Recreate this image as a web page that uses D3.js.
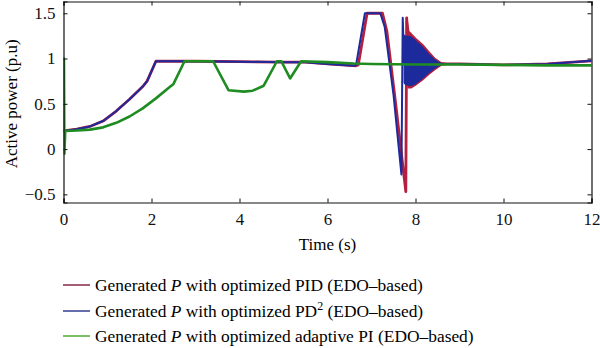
<!DOCTYPE html>
<html>
<head>
<meta charset="utf-8">
<script src="https://cdn.jsdelivr.net/npm/d3@7"></script>
<style>
  body { margin: 0; background: #fff; }
  svg { display: block; }
  .axis path, .axis line { stroke: #111; }
</style>
</head>
<body>
<svg id="chart" width="600" height="348"></svg>
<script>
// --- data (time in s, active power in p.u.) ---
const seriesNames = [
  'Generated P with optimized PID (EDO–based)',
  'Generated P with optimized PD2 (EDO–based)',
  'Generated P with optimized adaptive PI (EDO–based)'
];

const pidTime  = [0, 0.3, 0.6, 0.9, 1.2, 1.5, 1.8, 1.9, 2.1, 3, 4, 5, 5.5, 6, 6.65, 6.7, 6.9, 7.25, 7.35, 7.55, 7.78, 7.80, 7.83, 8.6, 9, 10, 11, 12];
const pidValue = [0.2, 0.22, 0.25, 0.31, 0.42, 0.55, 0.69, 0.75, 0.97, 0.97, 0.965, 0.96, 0.96, 0.94, 0.92, 0.93, 1.5, 1.5, 1.3, 0.5, -0.47, 1.45, 0.95, 0.94, 0.94, 0.93, 0.94, 0.975];

const pd2Time  = [0, 0.3, 0.6, 0.9, 1.2, 1.5, 1.8, 1.9, 2.1, 3, 4, 5, 5.5, 6, 6.6, 6.65, 6.85, 7.2, 7.3, 7.5, 7.68, 7.71, 7.74, 8.6, 9, 10, 11, 12];
const pd2Value = [0.2, 0.22, 0.25, 0.31, 0.42, 0.55, 0.69, 0.75, 0.97, 0.97, 0.965, 0.96, 0.96, 0.94, 0.92, 0.93, 1.5, 1.5, 1.35, 0.6, -0.28, 1.45, 0.95, 0.94, 0.94, 0.93, 0.94, 0.975];

const piTime  = [0, 0.01, 0.02, 0.04, 0.3, 0.6, 0.9, 1.2, 1.5, 1.8, 2.1, 2.4, 2.5, 2.75, 3.4, 3.75, 4.1, 4.3, 4.55, 4.85, 4.95, 5.15, 5.4, 6, 6.6, 7, 8, 9, 10, 11, 12];
const piValue = [0.2, 1.0, -0.05, 0.2, 0.205, 0.215, 0.24, 0.29, 0.36, 0.45, 0.56, 0.68, 0.72, 0.97, 0.97, 0.65, 0.635, 0.645, 0.70, 0.97, 0.97, 0.78, 0.97, 0.96, 0.945, 0.94, 0.935, 0.935, 0.93, 0.925, 0.925];

// envelope of the fast oscillation after the fault clearing
const pidBandTime  = [7.80, 7.84, 7.9, 8.0, 8.16, 8.3, 8.43, 8.58, 8.7];
const pidBandUpper = [1.45, 1.30, 1.27, 1.22, 1.15, 1.07, 1.0, 0.95, 0.94];
const pidBandLower = [0.95, 0.68, 0.68, 0.71, 0.77, 0.83, 0.88, 0.93, 0.94];

const pd2BandTime  = [7.74, 7.77, 7.9, 8.0, 8.16, 8.3, 8.43, 8.56, 8.68];
const pd2BandUpper = [1.26, 1.25, 1.24, 1.2, 1.13, 1.05, 0.99, 0.95, 0.94];
const pd2BandLower = [0.73, 0.71, 0.7, 0.72, 0.78, 0.84, 0.89, 0.93, 0.94];

const xTicks = [0, 2, 4, 6, 8, 10, 12];
const yTicks = [-0.5, 0, 0.5, 1, 1.5];

const colors = ['#b4203e', '#1c2a9c', '#1f8c22'];
const legendColors = ['#8e3552', '#3b4a96', '#5cae3e'];
const serif = '"Liberation Serif", "DejaVu Serif", serif';

// --- layout ---
const svg = d3.select('#chart').attr('font-family', serif);
const margin = { left: 63.5, right: 8.5, top: 1.5, bottom: 145.5 };
const W = 600, H = 348;
const innerW = W - margin.left - margin.right;
const innerH = H - margin.top - margin.bottom;

const x = d3.scaleLinear().domain([0, 12]).range([margin.left, margin.left + innerW]);
const y = d3.scaleLinear().domain([-0.59, 1.63]).range([margin.top + innerH, margin.top]);

const g = svg.append('g');

// clip for data
svg.append('clipPath').attr('id', 'clip')
  .append('rect')
  .attr('x', margin.left).attr('y', margin.top)
  .attr('width', innerW).attr('height', innerH);

const plot = g.append('g').attr('clip-path', 'url(#clip)');

const line = d3.line().x(d => x(d[0])).y(d => y(d[1]));
const area = d3.area().x(d => x(d[0])).y0(d => y(d[2])).y1(d => y(d[1]));

function zip(a, b, c) {
  return a.map((v, i) => c ? [v, b[i], c[i]] : [v, b[i]]);
}

// PID (drawn first, thicker so it rims the PD2 curve)
plot.append('path')
  .datum(zip(pidBandTime, pidBandUpper, pidBandLower))
  .attr('d', area)
  .attr('fill', colors[0])
  .attr('stroke', colors[0])
  .attr('stroke-width', 2);
plot.append('path')
  .datum(zip(pidTime, pidValue))
  .attr('d', line)
  .attr('fill', 'none')
  .attr('stroke', colors[0])
  .attr('stroke-width', 2.8)
  .attr('stroke-linejoin', 'round');

// PD2
plot.append('path')
  .datum(zip(pd2BandTime, pd2BandUpper, pd2BandLower))
  .attr('d', area)
  .attr('fill', colors[1])
  .attr('stroke', colors[1])
  .attr('stroke-width', 1);
plot.append('path')
  .datum(zip(pd2Time, pd2Value))
  .attr('d', line)
  .attr('fill', 'none')
  .attr('stroke', colors[1])
  .attr('stroke-width', 2)
  .attr('stroke-linejoin', 'round');

// adaptive PI
plot.append('path')
  .datum(zip(piTime, piValue))
  .attr('d', line)
  .attr('fill', 'none')
  .attr('stroke', colors[2])
  .attr('stroke-width', 2.6)
  .attr('stroke-linejoin', 'round');

// --- axes (ticks pointing inward, mirrored on top/right) ---
const xAxis = g.append('g').attr('class', 'axis')
  .attr('transform', `translate(0,${margin.top + innerH})`)
  .call(d3.axisBottom(x).tickValues(xTicks).tickSize(-4).tickPadding(10).tickFormat(d3.format('d')));
const xAxisTop = g.append('g').attr('class', 'axis')
  .attr('transform', `translate(0,${margin.top})`)
  .call(d3.axisTop(x).tickValues(xTicks).tickSize(-4).tickFormat(''));
const yAxis = g.append('g').attr('class', 'axis')
  .attr('transform', `translate(${margin.left},0)`)
  .call(d3.axisLeft(y).tickValues(yTicks).tickSize(-4).tickPadding(8)
    .tickFormat(d => d < 0 ? '\u2212' + Math.abs(d) : String(d)));
const yAxisRight = g.append('g').attr('class', 'axis')
  .attr('transform', `translate(${margin.left + innerW},0)`)
  .call(d3.axisRight(y).tickValues(yTicks).tickSize(-4).tickFormat(''));

[xAxis, xAxisTop, yAxis, yAxisRight].forEach(a => {
  a.attr('font-family', serif).attr('font-size', 17);
  a.select('.domain').attr('stroke-width', 1.2);
  a.selectAll('text').attr('fill', '#111');
});

// axis titles
g.append('text')
  .attr('x', x(6)).attr('y', 250)
  .attr('text-anchor', 'middle')
  .attr('font-size', 17)
  .text('Time (s)');

g.append('text')
  .attr('transform', `translate(17,${y(0.5)}) rotate(-90)`)
  .attr('text-anchor', 'middle')
  .attr('font-size', 17)
  .text('Active power (p.u)');

// --- legend ---
const legendY = [285, 311, 336];
const legend = g.append('g');
seriesNames.forEach((name, i) => {
  legend.append('line')
    .attr('x1', 63).attr('x2', 90)
    .attr('y1', legendY[i]).attr('y2', legendY[i])
    .attr('stroke', legendColors[i]).attr('stroke-width', 1.6);
  const t = legend.append('text')
    .attr('x', 95).attr('y', legendY[i] + 6)
    .attr('font-size', 17.4);
  const parts = name.split(' P ');
  t.append('tspan').text(parts[0] + ' ');
  t.append('tspan').attr('font-style', 'italic').text('P');
  if (parts[1].includes('PD2')) {
    const [a, b] = parts[1].split('PD2');
    t.append('tspan').text(' ' + a + 'PD');
    t.append('tspan').attr('font-size', 12).attr('dy', -7).text('2');
    t.append('tspan').attr('dy', 7).text(b);
  } else {
    t.append('tspan').text(' ' + parts[1]);
  }
});
</script>
</body>
</html>
